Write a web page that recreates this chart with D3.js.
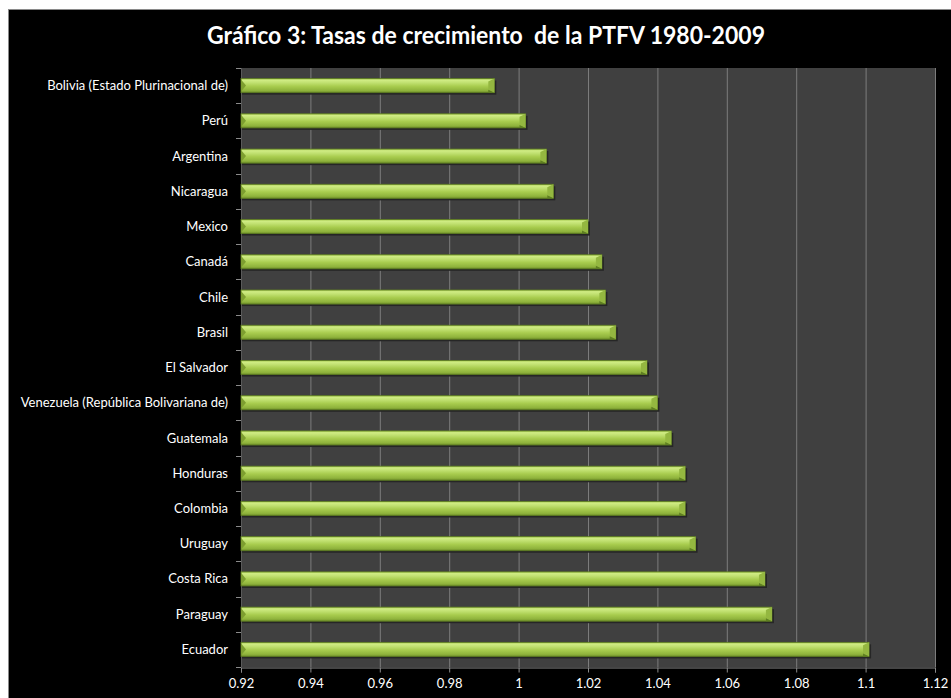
<!DOCTYPE html>
<html>
<head>
<meta charset="utf-8">
<script src="https://cdn.jsdelivr.net/npm/d3@7"></script>
<style>
  body { margin: 0; background: #fff; }
  svg { display: block; }
</style>
</head>
<body>
<div class="chart"></div>
<script>
// data, top to bottom
const countries = [
  "Bolivia (Estado Plurinacional de)", "Perú", "Argentina", "Nicaragua", "Mexico",
  "Canadá", "Chile", "Brasil", "El Salvador", "Venezuela (República Bolivariana de)",
  "Guatemala", "Honduras", "Colombia", "Uruguay", "Costa Rica", "Paraguay", "Ecuador"
];
const rates = [
  0.993, 1.002, 1.008, 1.010, 1.020,
  1.024, 1.025, 1.028, 1.037, 1.040,
  1.044, 1.048, 1.048, 1.051, 1.071, 1.073, 1.101
];
const xTicks = [0.92, 0.94, 0.96, 0.98, 1, 1.02, 1.04, 1.06, 1.08, 1.1, 1.12];
const title = "Gráfico 3: Tasas de crecimiento  de la PTFV 1980-2009";

const width = 951, height = 698;
const plot = { left: 241, right: 935, top: 68, bottom: 667 };

const svg = d3.select(".chart").append("svg")
  .attr("width", width)
  .attr("height", height);

// white page edge + grey frame, black chart area
svg.append("rect").attr("x", 0).attr("y", 0).attr("width", width).attr("height", height).attr("fill", "#fff");
svg.append("rect").attr("x", 8.5).attr("y", 9.5).attr("width", width).attr("height", height)
  .attr("fill", "#000").attr("stroke", "#8a8a8a").attr("stroke-width", 1);

const defs = svg.append("defs");
const grad = defs.append("linearGradient").attr("id", "barGrad")
  .attr("x1", 0).attr("y1", 0).attr("x2", 0).attr("y2", 1);
[[0, "#a2c64a"], [0.12, "#d0ec84"], [0.3, "#c0e070"], [0.55, "#a8cc4e"], [0.85, "#8fb33c"], [1, "#6e8e28"]]
  .forEach(function (s) { grad.append("stop").attr("offset", s[0]).attr("stop-color", s[1]); });

const x = d3.scaleLinear().domain([0.92, 1.12]).range([plot.left, plot.right]);
const y = d3.scaleBand().domain(countries).range([plot.top, plot.bottom]).paddingInner(0.6).paddingOuter(0.3);

// plot area
svg.append("rect")
  .attr("x", plot.left).attr("y", plot.top)
  .attr("width", plot.right - plot.left).attr("height", plot.bottom - plot.top)
  .attr("fill", "#404040");

// vertical gridlines
svg.append("g").selectAll("line")
  .data(xTicks.slice(1))
  .enter().append("line")
  .attr("x1", d => x(d) + 0.5).attr("x2", d => x(d) + 0.5)
  .attr("y1", plot.top).attr("y2", plot.bottom)
  .attr("stroke", "#7c7c7c").attr("stroke-width", 1);

// bottom axis
const xAxis = svg.append("g")
  .attr("transform", "translate(0," + (plot.bottom + 0.5) + ")")
  .call(d3.axisBottom(x).tickValues(xTicks).tickSize(5).tickPadding(6).tickFormat(d3.format("")));
xAxis.select(".domain").attr("stroke", "#8a8a8a");
xAxis.selectAll(".tick line").attr("stroke", "#8a8a8a");
xAxis.selectAll("text")
  .attr("fill", "#fff")
  .style("font-family", "Lato, 'Open Sans', sans-serif")
  .style("font-size", "13px");

// left axis: ticks between categories
const bounds = d3.range(countries.length + 1).map(i => plot.top + i * (plot.bottom - plot.top) / countries.length);
svg.append("g").selectAll("line")
  .data(bounds)
  .enter().append("line")
  .attr("x1", plot.left - 5).attr("x2", plot.left)
  .attr("y1", d => Math.round(d) + 0.5).attr("y2", d => Math.round(d) + 0.5)
  .attr("stroke", "#8a8a8a");
svg.append("line")
  .attr("x1", plot.left + 0.5).attr("x2", plot.left + 0.5)
  .attr("y1", plot.top).attr("y2", plot.bottom)
  .attr("stroke", "#5a5a5a");

svg.append("g").selectAll("text")
  .data(countries)
  .enter().append("text")
  .attr("x", 228)
  .attr("y", d => y(d) + y.bandwidth() / 2)
  .attr("dy", "0.35em")
  .attr("text-anchor", "end")
  .attr("fill", "#fff")
  .style("font-family", "Lato, 'Open Sans', sans-serif")
  .style("font-size", "13px")
  .text(d => d);

// bars
const data = countries.map((c, i) => ({ name: c, value: rates[i] }));
const bars = svg.append("g").selectAll("g")
  .data(data)
  .enter().append("g");

const bh = y.bandwidth();
// shadow
bars.append("rect")
  .attr("x", plot.left + 1)
  .attr("y", d => y(d.name) + 2)
  .attr("width", d => x(d.value) - plot.left + 1)
  .attr("height", bh)
  .attr("fill", "#262626");

bars.append("rect")
  .attr("x", plot.left)
  .attr("y", d => y(d.name))
  .attr("width", d => x(d.value) - plot.left)
  .attr("height", bh)
  .attr("fill", "url(#barGrad)")
  .attr("stroke", "#5e7d22")
  .attr("stroke-width", 0.8);

// bevelled right end
bars.append("path")
  .attr("d", function (d) {
    const xe = x(d.value), yt = y(d.name);
    return "M" + (xe - 6) + "," + (yt + 3) + "L" + xe + "," + yt + "L" + xe + "," + (yt + bh) + "L" + (xe - 6) + "," + (yt + bh - 3) + "Z";
  })
  .attr("fill", "#94b740");
bars.append("path")
  .attr("d", function (d) {
    const xe = x(d.value), yt = y(d.name);
    return "M" + (xe - 6) + "," + (yt + bh - 3) + "L" + xe + "," + (yt + bh) + "L" + (xe - 6) + "," + (yt + bh) + "Z";
  })
  .attr("fill", "#5f7f22");
// small bevel at left end
bars.append("path")
  .attr("d", function (d) {
    const yt = y(d.name);
    return "M" + plot.left + "," + (yt + 1) + "L" + (plot.left + 5) + "," + (yt + bh / 2) + "L" + plot.left + "," + (yt + bh - 1) + "Z";
  })
  .attr("fill", "#7d9e30");

// title
svg.append("text")
  .attr("x", 486)
  .attr("y", 44)
  .attr("text-anchor", "middle")
  .attr("fill", "#fff")
  .style("font-family", "Lato, 'Open Sans', sans-serif")
  .style("font-weight", "bold")
  .style("font-size", "24px")
  .style("white-space", "pre")
  .attr("textLength", 558)
  .attr("lengthAdjust", "spacingAndGlyphs")
  .text(title);
</script>
</body>
</html>
